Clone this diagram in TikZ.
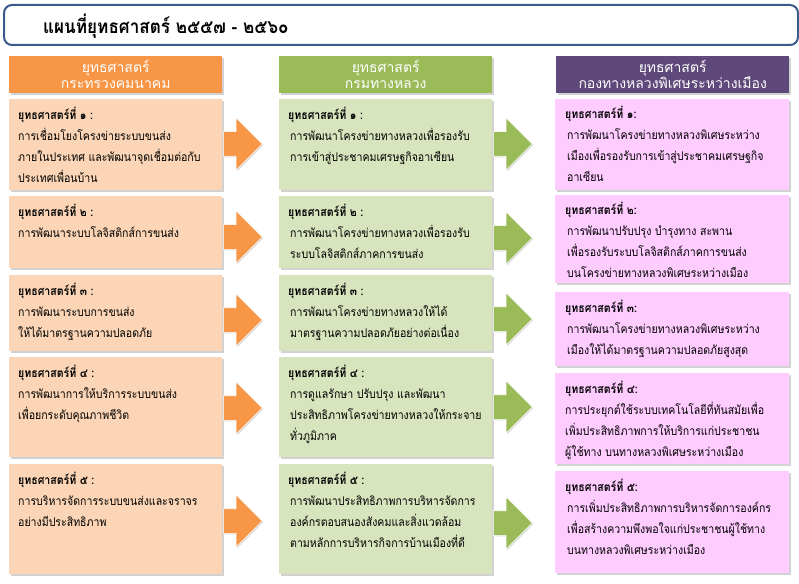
\documentclass[tikz,border=0pt]{standalone}
\usepackage{fontspec}
\newfontfamily\thaifont[Script=Thai,FakeStretch=0.88]{Loma}
\newfontfamily\thaititle[Script=Thai,FakeStretch=0.9]{Loma}
\newfontfamily\thaihead[Script=Thai]{Loma}
\usetikzlibrary{shapes.arrows,shadows}
\definecolor{hOrange}{HTML}{F79646}
\definecolor{hGreen}{HTML}{9BBB59}
\definecolor{hPurple}{HTML}{5F497A}
\definecolor{lOrange}{HTML}{FBD5B5}
\definecolor{lGreen}{HTML}{D7E4BD}
\definecolor{lPink}{HTML}{FFCCFF}
\definecolor{titleBlue}{HTML}{3A5A8C}
\begin{document}
\begin{tikzpicture}[x=1bp,y=-1bp,
  shadowed/.style={drop shadow={opacity=0.35,shadow xshift=1.5bp,shadow yshift=-1.5bp}},
  hdrbox/.style={rectangle,shadowed,anchor=north west,inner sep=0pt,text=white,align=center,
     font=\thaihead\fontsize{14bp}{16bp}\selectfont},
  stratbox/.style={rectangle,shadowed,anchor=north west,inner sep=0pt},
  stxt/.style={anchor=north west,inner sep=0pt,align=left,
     font=\thaifont\fontsize{12bp}{21bp}\selectfont},
  arrowshape/.style={single arrow,anchor=tail,inner xsep=0pt,inner ysep=12bp,
     minimum height=39bp,minimum width=52bp,single arrow head extend=14bp,
     draw=white,line width=0.6bp,drop shadow={opacity=0.3,shadow xshift=1bp,shadow yshift=-1bp}},
]
\useasboundingbox (0,0) rectangle (799,584);
\fill[white] (0,0) rectangle (799,584);

% title
\node[draw=titleBlue,line width=2bp,rounded corners=8bp,fill=white,anchor=north west,
  minimum width=794bp,minimum height=40bp,inner sep=0pt] (title) at (3,4) {};
\node[anchor=west,inner sep=0pt,font=\thaititle\bfseries\fontsize{19bp}{24bp}\selectfont] (titletext)
  at (43,26) {แผนที่ยุทธศาสตร์ ๒๕๕๗ - ๒๕๖๐};

% headers
\node[hdrbox,fill=hOrange,minimum width=213bp,minimum height=37bp] (h1) at (9,56) {ยุทธศาสตร์\\กระทรวงคมนาคม};
\node[hdrbox,fill=hGreen,minimum width=213bp,minimum height=37bp] (h2) at (279,56) {ยุทธศาสตร์\\กรมทางหลวง};
\node[hdrbox,fill=hPurple,minimum width=233bp,minimum height=37bp] (h3) at (556,56) {ยุทธศาสตร์\\กองทางหลวงพิเศษระหว่างเมือง};

% column 1
\node[stratbox,fill=lOrange,minimum width=213bp,minimum height=91bp] (b11) at (9,99) {};
\node[stratbox,fill=lOrange,minimum width=213bp,minimum height=72bp] (b12) at (9,196) {};
\node[stratbox,fill=lOrange,minimum width=213bp,minimum height=76bp] (b13) at (9,275) {};
\node[stratbox,fill=lOrange,minimum width=213bp,minimum height=100bp] (b14) at (9,357) {};
\node[stratbox,fill=lOrange,minimum width=213bp,minimum height=110bp] (b15) at (9,464) {};

\node[stxt] (t11) at (18,107) {\textbf{ยุทธศาสตร์ที่ ๑ :}\\การเชื่อมโยงโครงข่ายระบบขนส่ง\\ภายในประเทศ และพัฒนาจุดเชื่อมต่อกับ\\ประเทศเพื่อนบ้าน};
\node[stxt] (t12) at (18,204) {\textbf{ยุทธศาสตร์ที่ ๒ :}\\การพัฒนาระบบโลจิสติกส์การขนส่ง};
\node[stxt] (t13) at (18,283) {\textbf{ยุทธศาสตร์ที่ ๓ :}\\การพัฒนาระบบการขนส่ง\\ให้ได้มาตรฐานความปลอดภัย};
\node[stxt] (t14) at (18,365) {\textbf{ยุทธศาสตร์ที่ ๔ :}\\การพัฒนาการให้บริการระบบขนส่ง\\เพื่อยกระดับคุณภาพชีวิต};
\node[stxt] (t15) at (18,472) {\textbf{ยุทธศาสตร์ที่ ๕ :}\\การบริหารจัดการระบบขนส่งและจราจร\\อย่างมีประสิทธิภาพ};

% column 2
\node[stratbox,fill=lGreen,minimum width=213bp,minimum height=91bp] (b21) at (279,99) {};
\node[stratbox,fill=lGreen,minimum width=213bp,minimum height=72bp] (b22) at (279,196) {};
\node[stratbox,fill=lGreen,minimum width=213bp,minimum height=76bp] (b23) at (279,275) {};
\node[stratbox,fill=lGreen,minimum width=213bp,minimum height=100bp] (b24) at (279,357) {};
\node[stratbox,fill=lGreen,minimum width=213bp,minimum height=110bp] (b25) at (279,464) {};

\node[stxt] (t21) at (288,107) {\textbf{ยุทธศาสตร์ที่ ๑ :}\\\hspace*{2bp}การพัฒนาโครงข่ายทางหลวงเพื่อรองรับ\\\hspace*{2bp}การเข้าสู่ประชาคมเศรษฐกิจอาเซียน};
\node[stxt] (t22) at (288,204) {\textbf{ยุทธศาสตร์ที่ ๒ :}\\\hspace*{2bp}การพัฒนาโครงข่ายทางหลวงเพื่อรองรับ\\\hspace*{2bp}ระบบโลจิสติกส์ภาคการขนส่ง};
\node[stxt] (t23) at (288,283) {\textbf{ยุทธศาสตร์ที่ ๓ :}\\\hspace*{2bp}การพัฒนาโครงข่ายทางหลวงให้ได้\\\hspace*{2bp}มาตรฐานความปลอดภัยอย่างต่อเนื่อง};
\node[stxt] (t24) at (288,365) {\textbf{ยุทธศาสตร์ที่ ๔ :}\\\hspace*{2bp}การดูแลรักษา ปรับปรุง และพัฒนา\\\hspace*{2bp}ประสิทธิภาพโครงข่ายทางหลวงให้กระจาย\\\hspace*{2bp}ทั่วภูมิภาค};
\node[stxt] (t25) at (288,472) {\textbf{ยุทธศาสตร์ที่ ๕ :}\\\hspace*{2bp}การพัฒนาประสิทธิภาพการบริหารจัดการ\\\hspace*{2bp}องค์กรตอบสนองสังคมและสิ่งแวดล้อม\\\hspace*{2bp}ตามหลักการบริหารกิจการบ้านเมืองที่ดี};

% column 3
\node[stratbox,fill=lPink,minimum width=234bp,minimum height=91bp] (b31) at (555,99) {};
\node[stratbox,fill=lPink,minimum width=234bp,minimum height=88bp] (b32) at (555,195) {};
\node[stratbox,fill=lPink,minimum width=234bp,minimum height=74bp] (b33) at (555,292) {};
\node[stratbox,fill=lPink,minimum width=234bp,minimum height=91bp] (b34) at (555,373) {};
\node[stratbox,fill=lPink,minimum width=234bp,minimum height=102bp] (b35) at (555,471) {};

\node[stxt] (t31) at (565,106) {\textbf{ยุทธศาสตร์ที่ ๑:}\\\hspace*{2bp}การพัฒนาโครงข่ายทางหลวงพิเศษระหว่าง\\\hspace*{2bp}เมืองเพื่อรองรับการเข้าสู่ประชาคมเศรษฐกิจ\\\hspace*{2bp}อาเซียน};
\node[stxt] (t32) at (565,202) {\textbf{ยุทธศาสตร์ที่ ๒:}\\\hspace*{2bp}การพัฒนาปรับปรุง บำรุงทาง สะพาน\\\hspace*{2bp}เพื่อรองรับระบบโลจิสติกส์ภาคการขนส่ง\\\hspace*{2bp}บนโครงข่ายทางหลวงพิเศษระหว่างเมือง};
\node[stxt] (t33) at (565,300) {\textbf{ยุทธศาสตร์ที่ ๓:}\\\hspace*{2bp}การพัฒนาโครงข่ายทางหลวงพิเศษระหว่าง\\\hspace*{2bp}เมืองให้ได้มาตรฐานความปลอดภัยสูงสุด};
\node[stxt] (t34) at (565,381) {\textbf{ยุทธศาสตร์ที่ ๔:}\\การประยุกต์ใช้ระบบเทคโนโลยีที่ทันสมัยเพื่อ\\เพิ่มประสิทธิภาพการให้บริการแก่ประชาชน\\ผู้ใช้ทาง บนทางหลวงพิเศษระหว่างเมือง};
\node[stxt] (t35) at (565,479) {\textbf{ยุทธศาสตร์ที่ ๕:}\\\hspace*{2bp}การเพิ่มประสิทธิภาพการบริหารจัดการองค์กร\\\hspace*{2bp}เพื่อสร้างความพึงพอใจแก่ประชาชนผู้ใช้ทาง\\\hspace*{2bp}บนทางหลวงพิเศษระหว่างเมือง};

% arrows
\node[arrowshape,fill=hOrange] (a11) at (223,144) {};
\node[arrowshape,fill=hOrange] (a12) at (223,237) {};
\node[arrowshape,fill=hOrange] (a13) at (223,320) {};
\node[arrowshape,fill=hOrange] (a14) at (223,408) {};
\node[arrowshape,fill=hOrange] (a15) at (223,521) {};
\node[arrowshape,fill=hGreen] (a21) at (493,144) {};
\node[arrowshape,fill=hGreen] (a22) at (493,238) {};
\node[arrowshape,fill=hGreen] (a23) at (493,319) {};
\node[arrowshape,fill=hGreen] (a24) at (493,407) {};
\node[arrowshape,fill=hGreen] (a25) at (493,523) {};
\end{tikzpicture}
\end{document}
